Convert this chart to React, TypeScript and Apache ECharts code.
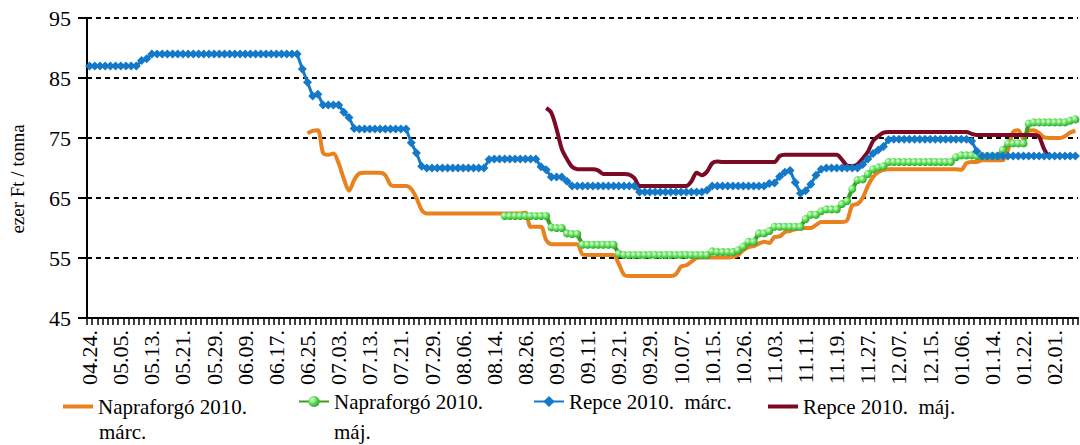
import React, { useEffect, useRef } from "react";
import * as echarts from "echarts";

const _ = null;

const categories = [
  "04.24.","04.27.","04.28.","04.29.","04.30.","05.04.","05.05.",
  "05.06.","05.07.","05.08.","05.11.","05.12.","05.13.",
  "05.14.","05.15.","05.18.","05.19.","05.20.","05.21.",
  "05.22.","05.25.","05.26.","05.27.","05.28.","05.29.",
  "06.02.","06.03.","06.04.","06.05.","06.08.","06.09.",
  "06.10.","06.11.","06.12.","06.15.","06.16.","06.17.",
  "06.18.","06.19.","06.22.","06.23.","06.24.","06.25.",
  "06.26.","06.29.","06.30.","07.01.","07.02.","07.03.",
  "07.06.","07.07.","07.08.","07.09.","07.10.","07.13.",
  "07.14.","07.15.","07.16.","07.17.","07.20.","07.21.",
  "07.22.","07.23.","07.24.","07.27.","07.28.","07.29.",
  "07.30.","07.31.","08.03.","08.04.","08.05.","08.06.",
  "08.07.","08.10.","08.11.","08.12.","08.13.","08.14.",
  "08.17.","08.18.","08.19.","08.24.","08.25.","08.26.",
  "08.27.","08.28.","08.31.","09.01.","09.02.","09.03.",
  "09.04.","09.07.","09.08.","09.09.","09.10.","09.11.",
  "09.14.","09.15.","09.16.","09.17.","09.18.","09.21.",
  "09.22.","09.23.","09.24.","09.25.","09.28.","09.29.",
  "09.30.","10.01.","10.02.","10.05.","10.06.","10.07.",
  "10.08.","10.09.","10.12.","10.13.","10.14.","10.15.",
  "10.16.","10.19.","10.20.","10.21.","10.22.","10.26.",
  "10.27.","10.28.","10.29.","10.30.","11.02.","11.03.",
  "11.04.","11.05.","11.06.","11.09.","11.10.","11.11.",
  "11.12.","11.13.","11.16.","11.17.","11.18.","11.19.",
  "11.20.","11.23.","11.24.","11.25.","11.26.","11.27.",
  "11.30.","12.01.","12.02.","12.03.","12.04.","12.07.",
  "12.08.","12.09.","12.10.","12.11.","12.14.","12.15.",
  "12.16.","12.17.","12.18.","01.04.","01.05.","01.06.",
  "01.07.","01.08.","01.11.","01.12.","01.13.","01.14.",
  "01.15.","01.18.","01.19.","01.20.","01.21.","01.22.",
  "01.25.","01.26.","01.27.","01.28.","01.29.","02.01.",
  "02.02.","02.03.","02.04.","02.05."
];

// Napraforgó 2010. márc.
const napraMarc = [
  _,_,_,_,_,_,_,_,_,_,
  _,_,_,_,_,_,_,_,_,_,
  _,_,_,_,_,_,_,_,_,_,
  _,_,_,_,_,_,_,_,_,_,
  _,_,75.8,76.2,76.3,72.5,72.2,72.4,70.8,68.2,
  66.2,68,69.1,69.2,69.2,69.2,69.2,68.8,67.2,67,
  67,67,66.5,65,63,62.4,62.4,62.4,62.4,62.4,
  62.4,62.4,62.4,62.4,62.4,62.4,62.4,62.4,62.4,62.4,
  62.4,62.4,62.4,62.4,62.6,60.2,60.2,60.2,58,57.3,
  57.3,57.3,57.3,57.3,57.3,55.6,55.5,55.5,55.5,55.5,
  55.5,55.5,54,52.2,52,52,52,52,52,52,
  52,52,52,52.3,53.6,53.8,54.4,55,55.1,55.1,
  55.1,55.1,55.1,55.1,55.2,55.5,56.3,56.8,57,57.4,
  57.7,57.5,58.5,58.6,59.3,59.5,59.8,59.9,60,60,
  60.5,61,61,61,61,61,61.3,63.8,64,65,
  67,68.5,69.3,69.7,69.8,69.8,69.8,69.8,69.8,69.8,
  69.8,69.8,69.8,69.8,69.8,69.8,69.8,69.8,69.7,70.8,
  71,71,71.3,71.3,71.3,71.3,71.3,73,76,76.3,
  74.8,76.2,76.3,75.8,75.1,75,75,75,75.3,75.9,
  76.2
];

// Napraforgó 2010. máj.
const napraMaj = [
  _,_,_,_,_,_,_,_,_,_,
  _,_,_,_,_,_,_,_,_,_,
  _,_,_,_,_,_,_,_,_,_,
  _,_,_,_,_,_,_,_,_,_,
  _,_,_,_,_,_,_,_,_,_,
  _,_,_,_,_,_,_,_,_,_,
  _,_,_,_,_,_,_,_,_,_,
  _,_,_,_,_,_,_,_,_,_,
  62,62,62,62,62,62,62,62,62,60.1,
  60,60,59.1,59,59,57.2,57.2,57.2,57.2,57.2,
  57.2,57.2,55.7,55.5,55.5,55.5,55.5,55.5,55.5,55.5,
  55.5,55.5,55.5,55.5,55.5,55.5,55.5,55.5,55.5,55.5,
  56.1,56,56,56,56,56.3,56.9,57.7,57.7,59.1,
  59.1,59.5,60.2,60.2,60.2,60.2,60.2,60.2,61.5,62.2,
  62.2,62.8,63.1,63.1,63.1,64,64.5,66.5,68,68.1,
  69,69.8,70.1,70.3,71,71,71,71,71,71,
  71,71,71,71,71,71,71,71.8,72.1,72.1,
  72.1,72,72,72,72,72,73,74.1,74.1,74.1,
  74.1,77.4,77.6,77.6,77.6,77.6,77.6,77.6,77.6,77.9,
  78.1
];

// Repce 2010. márc.
const repceMarc = [
  87,87,87,87,87,87,87,87,87,87,
  87.9,88.2,89,89,89,89,89,89,89,89,
  89,89,89,89,89,89,89,89,89,89,
  89,89,89,89,89,89,89,89,89,89,
  89,86.5,84.3,82,82.3,80.5,80.5,80.5,80.5,79.3,
  78.4,76.6,76.5,76.5,76.5,76.5,76.5,76.5,76.5,76.5,
  76.5,76.5,74.2,72.5,70.3,70,70,70,70,70,
  70,70,70,70,70,70,70,71.4,71.5,71.5,
  71.5,71.5,71.5,71.5,71.5,71.5,71.5,70.2,69.7,68.5,
  68.5,68.5,67.8,67,67,67,67,67,67,67,
  67,67,67,67,67,67,66,66,66,66,
  66,66,66,66,66,66,66,66,66,66.3,
  67,67,67,67,67,67,67,67,67,67,
  67,67.4,67.5,68.6,69.3,69.6,67.6,65.8,66.2,67.3,
  68.8,69.8,70,70,70,70,70,70,70,70.6,
  71.5,72.4,73,73.6,74.7,74.8,74.8,74.8,74.8,74.8,
  74.8,74.8,74.8,74.8,74.8,74.8,74.8,74.8,74.8,74.8,
  74.5,72.8,72,72,72,72,72,72,72,72,
  72,72,72,72,72,72,72,72,72,72,
  72
];

// Repce 2010. máj.
const repceMaj = [
  _,_,_,_,_,_,_,_,_,_,
  _,_,_,_,_,_,_,_,_,_,
  _,_,_,_,_,_,_,_,_,_,
  _,_,_,_,_,_,_,_,_,_,
  _,_,_,_,_,_,_,_,_,_,
  _,_,_,_,_,_,_,_,_,_,
  _,_,_,_,_,_,_,_,_,_,
  _,_,_,_,_,_,_,_,_,_,
  _,_,_,_,_,_,_,_,80,79.2,
  76.5,73.2,71.5,70.2,69.8,69.8,69.8,69.8,69.6,69,
  69,69,69,69,68.9,68.3,67,67,67,67,
  67,67,67,67,67,67,67.8,69.2,68.8,69.4,
  70.8,71.1,71,71,71,71,71,71,71,71,
  71,71,71,72,72.2,72.2,72.2,72.2,72.2,72.2,
  72.2,72.2,72.2,72.2,72.2,71.4,70.4,70.3,70.6,71.6,
  72.7,74.5,75.3,75.9,76,76,76,76,76,76,
  76,76,76,76,76,76,76,76,76,76,
  75.7,75.5,75.5,75.5,75.5,75.5,75.5,75.5,75.5,75.5,
  75.5,75.5,75.5,75.2,73.1,72,72,72,72,72,
  72
];

const seriesNames = [
  "Napraforgó 2010. márc.",
  "Napraforgó 2010. máj.",
  "Repce 2010.  márc.",
  "Repce 2010.  máj.",
];
const legendFirstLines = ["Napraforgó 2010.", "Napraforgó 2010.", "Repce 2010.  márc.", "Repce 2010.  máj."];
const legendSecondLines = ["márc.", "máj.", "", ""];

const yTicks = { min: 45, max: 95, interval: 10 };
const yAxisName = "ezer Ft / tonna";

export default function App() {
  const ref = useRef<HTMLDivElement>(null);

  useEffect(() => {
    document.body.style.margin = "0";
    const chart = echarts.init(ref.current!, null, { renderer: "svg" });
    const font = "'Liberation Serif', 'Times New Roman', Times, serif";
    const greenGrad = new echarts.graphic.RadialGradient(0.35, 0.35, 0.75, [
      { offset: 0, color: "#eaffe4" },
      { offset: 0.45, color: "#5fe05a" },
      { offset: 1, color: "#1e9a22" },
    ]);

    const legendX = [63, 298, 533, 768];
    const lineOnlyLegend = [true, false, false, true];
    const legendColors = ["#E9821E", "", "", "#7C0A24"];

    chart.setOption({
      animation: false,
      backgroundColor: "#ffffff",
      textStyle: { fontFamily: font, color: "#000" },
      grid: { left: 83, top: 18, right: 2, bottom: 127, containLabel: false },
      legend: seriesNames.map((n, k) => ({
        data: lineOnlyLegend[k]
          ? [{ name: n, icon: "rect", itemStyle: { color: legendColors[k] } }]
          : [n],
        left: legendX[k],
        top: lineOnlyLegend[k] ? 396 : 391,
        padding: 0,
        itemWidth: 30,
        itemHeight: lineOnlyLegend[k] ? 4 : 14,
        itemGap: 0,
        selectedMode: false,
        formatter: () => legendFirstLines[k],
        textStyle: { fontFamily: font, fontSize: 21, color: "#000", lineHeight: 21 },
      })),
      graphic: legendSecondLines
        .map((t, k) =>
          t
            ? {
                type: "text",
                left: legendX[k] + 36,
                top: 421,
                style: { text: t, fontFamily: font, fontSize: 21, lineHeight: 21, fill: "#000" },
              }
            : null
        )
        .filter(Boolean),
      xAxis: {
        type: "category",
        data: categories,
        boundaryGap: true,
        axisLine: { show: true, lineStyle: { color: "#000", width: 2 } },
        axisTick: { show: true, interval: 0, length: 7, lineStyle: { color: "#000", width: 1.5 } },
        axisLabel: {
          interval: 5,
          rotate: 90,
          margin: 12,
          fontFamily: font,
          fontSize: 22,
          color: "#000",
        },
        splitLine: { show: false },
      },
      yAxis: {
        type: "value",
        min: yTicks.min,
        max: yTicks.max,
        interval: yTicks.interval,
        name: yAxisName,
        nameLocation: "middle",
        nameGap: 60,
        nameRotate: 90,
        nameTextStyle: { fontFamily: font, fontSize: 19, color: "#000", padding: [0, 22, 0, 0] },
        axisLine: { show: true, lineStyle: { color: "#000", width: 2 } },
        axisTick: { show: true, length: 9, lineStyle: { color: "#000", width: 2 } },
        axisLabel: { fontFamily: font, fontSize: 22, color: "#000", margin: 16 },
        splitLine: { show: true, lineStyle: { color: "#000", type: [5, 4], width: 2 } },
      },
      series: [
        {
          name: seriesNames[0],
          type: "line",
          data: napraMarc,
          symbol: "none",
          smooth: 0.3,
          lineStyle: { color: "#E9821E", width: 4 },
          itemStyle: { color: "#E9821E" },
        },
        {
          name: seriesNames[1],
          type: "line",
          data: napraMaj,
          symbol: "circle",
          symbolSize: 8,
          showSymbol: true,
          showAllSymbol: true,
          lineStyle: { color: "#3E9C22", width: 4 },
          itemStyle: { color: greenGrad },
        },
        {
          name: seriesNames[2],
          type: "line",
          data: repceMarc,
          symbol: "diamond",
          symbolSize: 9,
          showSymbol: true,
          showAllSymbol: true,
          lineStyle: { color: "#1479C9", width: 3 },
          itemStyle: { color: "#1479C9" },
        },
        {
          name: seriesNames[3],
          type: "line",
          data: repceMaj,
          symbol: "none",
          smooth: 0.3,
          lineStyle: { color: "#7C0A24", width: 4 },
          itemStyle: { color: "#7C0A24" },
        },
      ],
    });
    return () => chart.dispose();
  }, []);

  return <div ref={ref} style={{ width: 1080, height: 445 }} />;
}
